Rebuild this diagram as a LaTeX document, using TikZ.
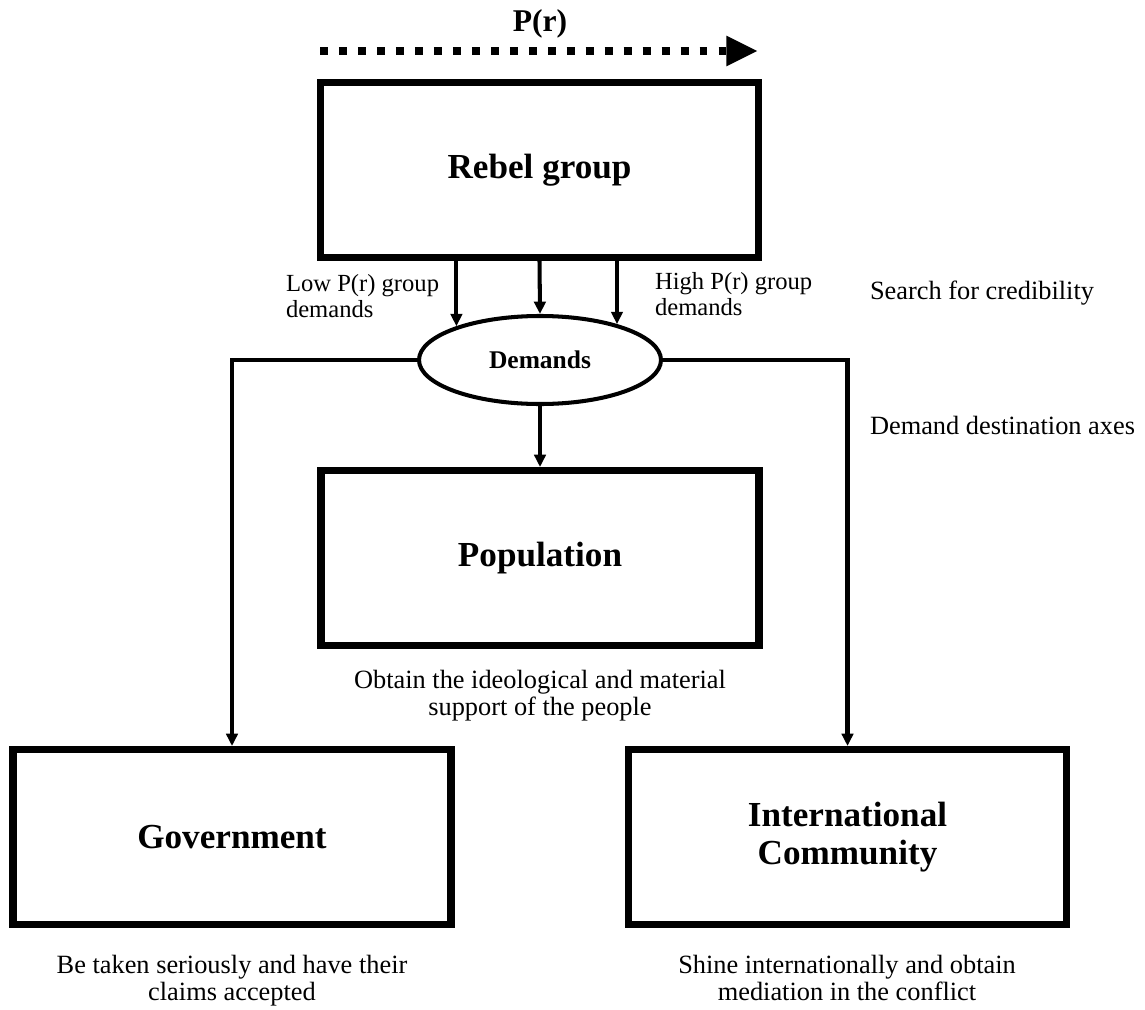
\documentclass[tikz,border=0pt]{standalone}
\usepackage{fontspec}
\setmainfont{Liberation Serif}
\usetikzlibrary{arrows.meta, shapes.geometric}

\begin{document}
\begin{tikzpicture}[>={Triangle[length=7pt,width=6.5pt]}, line width=2.3pt,
     box/.style={draw, rectangle, line width=4pt, minimum width=8.76cm, minimum height=3.5cm, align=center, font=\fontsize{20}{22}\selectfont\bfseries},
     note/.style={align=center, font=\fontsize{15}{15.5}\selectfont},
     side/.style={align=left, anchor=west, inner sep=0pt, font=\fontsize{14}{15}\selectfont}]
     \useasboundingbox (0,0) rectangle (22.9,-20.18);

     \node[box]  (rebel)  at (10.79,-3.40)  {Rebel group};
     \node[box]  (pop)    at (10.80,-11.16) {Population};
     \node[box]  (gov)    at (4.64,-16.74)  {Government};
     \node[box]  (intl)   at (16.95,-16.74) {International\\Community};
     \node[ellipse, draw, line width=2.3pt, inner sep=0pt, minimum width=4.84cm, minimum height=1.76cm,
           font=\fontsize{14.5}{16}\selectfont\bfseries] (dem) at (10.80,-7.20) {Demands};

     % P(r) axis
     \coordinate (pl) at (6.40,-1.02);
     \coordinate (pr) at (15.16,-1.02);
     \draw[line width=4.5pt, dash pattern=on 4.5pt off 6.3pt, -{Triangle[length=18pt,width=16pt]}] (pl) -- (pr);
     \node[font=\fontsize{18}{20}\selectfont\bfseries] (pval) at (10.80,-0.48) {P(r)};

     \node[side]  (low)   at (5.68,-5.92)  {Low P(r) group\\demands};
     \node[side]  (high)  at (13.06,-5.88) {High P(r) group\\demands};
     \node[side, font=\fontsize{15}{16}\selectfont]  (search) at (17.36,-5.86) {Search for credibility};
     \node[side, font=\fontsize{15}{16}\selectfont]  (axes)   at (17.36,-8.50) {Demand destination axes};

     \node[note]  (popnote)  at (10.80,-13.92) {Obtain the ideological and material\\support of the people};
     \node[note]  (govnote)  at (4.64,-19.62)  {Be taken seriously and have their\\claims accepted};
     \node[note]  (intlnote) at (16.94,-19.56) {Shine internationally and obtain\\mediation in the conflict};

     \path[->] (dem.158 |- rebel.south) edge (dem.158)
               (rebel.south)            edge (dem.north)
               (dem.25 |- rebel.south)  edge (dem.25)
               (dem.south)              edge (pop.north);
     \draw[->] (dem.west) -| (gov.north);
     \draw[->] (dem.east) -| (intl.north);
\end{tikzpicture}
\end{document}
